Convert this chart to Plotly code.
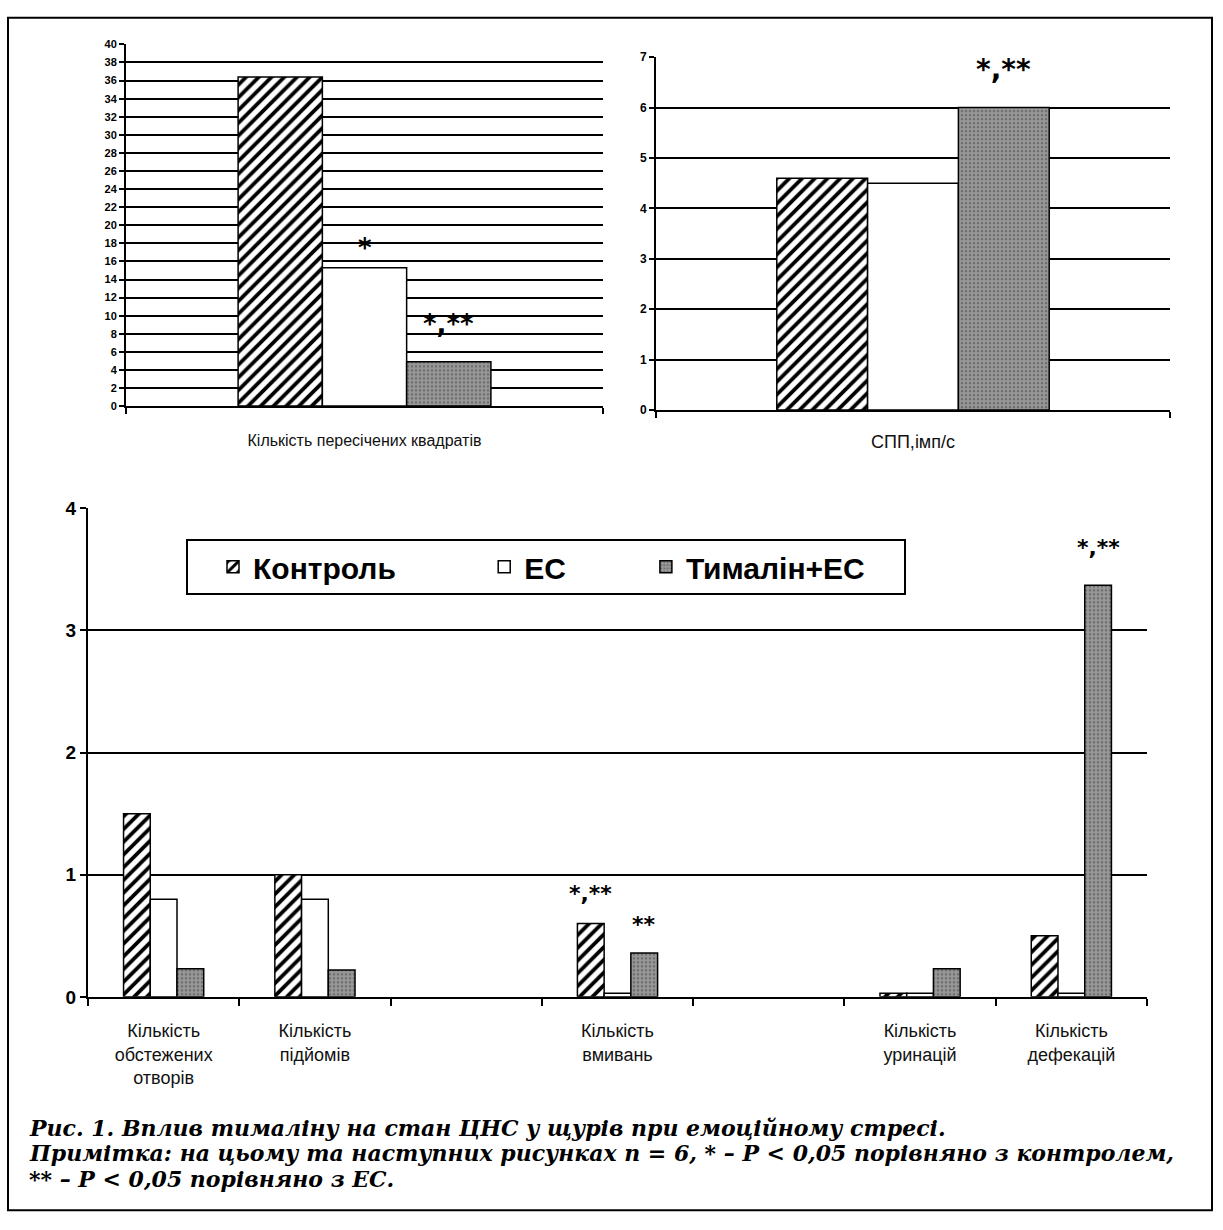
import plotly.graph_objects as go

W, H = 1223, 1230

# ---------------- data ----------------
series = ["Контроль", "ЕС", "Тималін+ЕС"]

cat_sq = ["Кількість пересічених квадратів"]
sq_control = [36.4]
sq_ec = [15.3]
sq_thym = [4.9]

cat_spp = ["СПП,імп/с"]
spp_control = [4.6]
spp_ec = [4.5]
spp_thym = [6.0]

cat_beh = ["Кількість<br>обстежених<br>отворів", "Кількість<br>підйомів", " ",
           "Кількість<br>вмивань", "  ", "Кількість<br>уринацій", "Кількість<br>дефекацій"]
beh_control = [1.5, 1.0, None, 0.6, None, 0.03, 0.5]
beh_ec = [0.8, 0.8, None, 0.03, None, 0.03, 0.03]
beh_thym = [0.23, 0.22, None, 0.36, None, 0.23, 3.37]

sq_ticks = list(range(0, 41, 2))
spp_ticks = list(range(0, 8))
beh_ticks = [0, 1, 2, 3, 4]

caption_lines = [
    "Рис. 1. Вплив тималіну на стан ЦНС у щурів при емоційному стресі.",
    "Примітка: на цьому та наступних рисунках n = 6, * – P < 0,05 порівняно з контролем,",
    "** – P < 0,05 порівняно з ЕС.",
]

# ---------------- styles ----------------
FONT = "Liberation Sans, Arial, sans-serif"
NB = "\u00a0"


def px_x(p):
    return p / W


def px_y(p):
    return 1 - p / H


def style(i):
    line = dict(color="black", width=1.5)
    if i == 0:
        return dict(color="white", line=line,
                    pattern=dict(shape="/", fgcolor="black", bgcolor="white",
                                 size=9, solidity=0.42, fillmode="replace"))
    if i == 1:
        return dict(color="white", line=line)
    return dict(color="#8d8d8d", line=line,
                pattern=dict(shape=".", fgcolor="#6e6e6e", bgcolor="#999999",
                             size=4, solidity=0.35, fillmode="replace"))


fig = go.Figure()

legend_names = [series[0] + NB * 7, series[1] + NB * 6, series[2] + NB * 4]
groups = [
    (cat_sq, [sq_control, sq_ec, sq_thym], "x", "y", False),
    (cat_spp, [spp_control, spp_ec, spp_thym], "x2", "y2", False),
    (cat_beh, [beh_control, beh_ec, beh_thym], "x3", "y3", True),
]
for cats, vals, xa, ya, show in groups:
    for i, v in enumerate(vals):
        fig.add_trace(go.Bar(x=cats, y=v, name=legend_names[i], marker=style(i),
                             xaxis=xa, yaxis=ya, showlegend=show,
                             legendgroup=series[i]))

ax_common = dict(showline=True, linecolor="black", linewidth=2, mirror=False,
                 ticks="outside", tickcolor="black", tickwidth=2)

fig.update_layout(
    width=W, height=H,
    margin=dict(l=0, r=0, t=0, b=0),
    paper_bgcolor="white", plot_bgcolor="white",
    barmode="group", bargap=0.47, bargroupgap=0,
    font=dict(family=FONT, color="black"),
    xaxis=dict(domain=[px_x(126), px_x(603)], anchor="y", type="category",
               tickson="boundaries", ticklen=6, showgrid=False,
               tickfont=dict(size=16, color="#111"), ticklabelstandoff=19,
               **ax_common),
    yaxis=dict(domain=[px_y(403), px_y(35)], anchor="x", range=[0, 40],
               tickvals=sq_ticks, ticklen=5, showgrid=True,
               gridcolor="black", gridwidth=2, zeroline=False,
               tickfont=dict(size=11, color="black", weight="bold"),
               **ax_common),
    xaxis2=dict(domain=[px_x(656), px_x(1170)], anchor="y2", type="category",
                tickson="boundaries", ticklen=6, showgrid=False,
                tickfont=dict(size=18, color="#111"), ticklabelstandoff=14,
                **ax_common),
    yaxis2=dict(domain=[px_y(407), px_y(48)], anchor="x2", range=[0, 7],
                tickvals=spp_ticks, ticklen=5, showgrid=True,
                gridcolor="black", gridwidth=2, zeroline=False,
                tickfont=dict(size=12, color="black", weight="bold"),
                **ax_common),
    xaxis3=dict(domain=[px_x(88), px_x(1147)], anchor="y3", type="category",
                tickson="boundaries", ticklen=7, showgrid=False,
                tickfont=dict(size=18, color="#111"), ticklabelstandoff=17,
                **ax_common),
    yaxis3=dict(domain=[px_y(1004), px_y(507)], anchor="x3", range=[0, 4],
                tickvals=beh_ticks, ticklen=6, showgrid=True,
                gridcolor="black", gridwidth=1.6, zeroline=False,
                tickfont=dict(size=19, color="black", weight="bold"),
                **ax_common),
    legend=dict(orientation="h", x=px_x(186), y=px_y(538),
                xanchor="left", yanchor="top",
                bordercolor="black", borderwidth=2, bgcolor="white",
                font=dict(size=30, family=FONT, color="black", weight="bold"),
                traceorder="normal", indentation=25),
)

# significance marks (positions derived from data values)
bw = (1 - 0.47) / 3
marks = [
    ("x", "y", 0.0, sq_ec[0], "*", 20, 26),
    ("x", "y", bw, sq_thym[0], "*,**", 38, 26),
    ("x2", "y2", bw, spp_thym[0], "*,**", 38, 28),
    ("x3", "y3", 3 - bw, beh_control[3], "*,**", 30, 22),
    ("x3", "y3", 3 + bw, beh_thym[3], "**", 28, 22),
    ("x3", "y3", 6 + bw, beh_thym[6], "*,**", 38, 22),
]
for xa, ya, xv, yv, txt, dy, fs in marks:
    fig.add_annotation(x=xv, y=yv, xref=xa, yref=ya, text=txt, showarrow=False,
                       yshift=dy, font=dict(size=fs, family="DejaVu Sans",
                                            color="black", weight="bold"))

# caption
for line, yy in zip(caption_lines, [1137, 1163, 1189]):
    fig.add_annotation(x=px_x(27), y=px_y(yy), xref="paper", yref="paper",
                       xanchor="left", yanchor="middle", showarrow=False,
                       text="<b><i>" + line + "</i></b>",
                       font=dict(size=22, family="DejaVu Serif", color="black"))

# outer frame
fig.add_shape(type="rect", xref="paper", yref="paper",
              x0=px_x(8), x1=px_x(1212), y0=px_y(1221), y1=px_y(8),
              line=dict(color="black", width=2))

post = (
    "var gd=document.getElementById('{plot_id}');"
    "gd.style.position='absolute';gd.style.top='0px';gd.style.left='0px';"
    "document.body.style.margin='0';document.body.style.padding='0';"
    "document.documentElement.style.overflow='hidden';"
    "document.body.style.overflow='hidden';"
)
fig.write_html("out.html", config={"displayModeBar": False}, post_script=post)
